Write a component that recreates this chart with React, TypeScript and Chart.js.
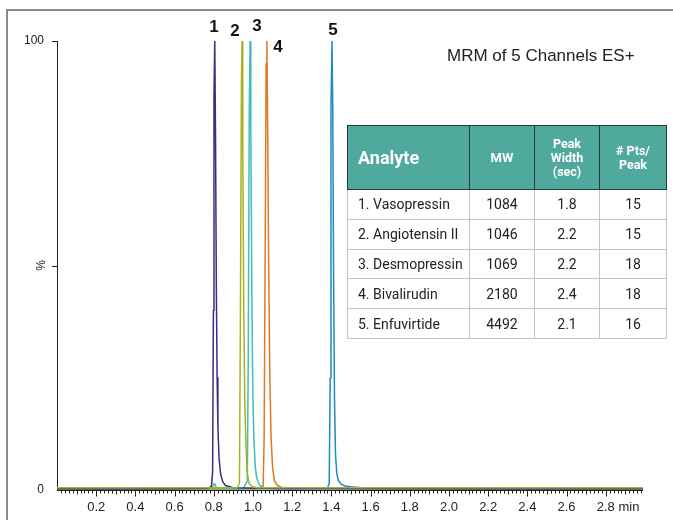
import React, { useEffect, useRef } from "react";
import { Chart, registerables } from "chart.js";

Chart.register(...registerables);

// ---- data (time in min, intensity in %) ----
const vasoT = [0, 0.3, 0.6, 0.77, 0.788, 0.794, 0.798, 0.801, 0.805, 0.809, 0.813, 0.817, 0.821, 0.827, 0.835, 0.846, 0.86, 0.9, 1.2, 1.8, 2.4, 2.99];
const vasoI = [0.3, 0.2, 0.3, 0.4, 0.8, 4, 40, 88, 100, 78, 45, 25, 14, 7, 3.5, 1.8, 1, 0.5, 0.3, 0.3, 0.2, 0.3];

const angioT = [0, 0.4, 0.8, 0.92, 0.931, 0.936, 0.941, 0.944, 0.948, 0.953, 0.958, 0.964, 0.97, 0.98, 0.995, 1.02, 1.5, 2.2, 2.99];
const angioI = [0.5, 0.5, 0.5, 0.5, 1.5, 40, 90, 100, 75, 40, 20, 10, 4, 1.5, 0.8, 0.5, 0.5, 0.5, 0.5];

const desmoT = [0, 0.5, 0.78, 0.795, 0.803, 0.81, 0.82, 0.95, 0.971, 0.976, 0.981, 0.985, 0.989, 0.994, 0.999, 1.005, 1.012, 1.02, 1.035, 1.06, 1.5, 2.99];
const desmoI = [0.3, 0.3, 0.3, 0.8, 1.5, 0.8, 0.3, 0.3, 2, 30, 85, 100, 80, 45, 22, 11, 5, 2.5, 1, 0.5, 0.3, 0.3];

const bivaT = [0, 0.5, 1.04, 1.052, 1.057, 1.063, 1.067, 1.071, 1.075, 1.08, 1.086, 1.092, 1.1, 1.11, 1.125, 1.15, 1.6, 2.99];
const bivaI = [0.3, 0.3, 0.3, 1, 12, 60, 95, 100, 80, 50, 25, 12, 5, 2, 1, 0.5, 0.3, 0.3];

const enfuT = [0, 0.6, 1.2, 1.38, 1.389, 1.394, 1.398, 1.403, 1.407, 1.411, 1.416, 1.421, 1.428, 1.437, 1.45, 1.47, 1.5, 1.55, 1.7, 2.2, 2.99];
const enfuI = [0.3, 0.3, 0.3, 0.4, 1.5, 25, 85, 100, 85, 50, 20, 8, 3.5, 2, 1.3, 0.9, 0.7, 0.5, 0.3, 0.3, 0.3];

const xTickValues = [0.2, 0.4, 0.6, 0.8, 1.0, 1.2, 1.4, 1.6, 1.8, 2.0, 2.2, 2.4, 2.6, 2.8];
const xTickLabels = ["0.2", "0.4", "0.6", "0.8", "1.0", "1.2", "1.4", "1.6", "1.8", "2.0", "2.2", "2.4", "2.6", "2.8 min"];
const yTickValues = [0, 50, 100];
const yTickLabels = ["0", "", "100"];

const peakNames = ["1", "2", "3", "4", "5"];
const peakLabelX = [0.801, 0.908, 1.02, 1.128, 1.408];
const peakLabelY = [103.1, 102.2, 103.3, 98.7, 102.4];

const tableHeader = ["Analyte", "MW", "Peak Width (sec)", "# Pts/ Peak"];
const analytes = ["1. Vasopressin", "2. Angiotensin II", "3. Desmopressin", "4. Bivalirudin", "5. Enfuvirtide"];
const mw = ["1084", "1046", "1069", "2180", "4492"];
const peakWidth = ["1.8", "2.2", "2.2", "2.4", "2.1"];
const ptsPerPeak = ["15", "15", "18", "18", "16"];

const X_MAX = 2.99;

function pts(t: number[], v: number[]) {
  return t.map((x, i) => ({ x, y: v[i] }));
}

const axesPlugin = {
  id: "customAxes",
  beforeDatasetsDraw(chart: any) {
    const { ctx } = chart;
    const x = chart.scales.x;
    const y = chart.scales.y;
    const x0 = x.getPixelForValue(0);
    const xEnd = x.getPixelForValue(X_MAX);
    const y0 = y.getPixelForValue(0);
    const y100 = y.getPixelForValue(100);
    ctx.save();
    // frame
    ctx.strokeStyle = "#8a8a8a";
    ctx.lineWidth = 2;
    ctx.beginPath();
    ctx.moveTo(7, 520);
    ctx.lineTo(7, 10);
    ctx.lineTo(673, 10);
    ctx.stroke();

    ctx.strokeStyle = "#222";
    ctx.lineWidth = 1;
    ctx.beginPath();
    ctx.moveTo(Math.round(x0) + 0.5, y100);
    ctx.lineTo(Math.round(x0) + 0.5, y0);
    ctx.moveTo(x0, Math.round(y0) + 0.5);
    ctx.lineTo(xEnd, Math.round(y0) + 0.5);
    // x minor ticks every 0.02
    for (let i = 1; i * 0.02 <= X_MAX + 1e-9; i++) {
      const px = Math.round(x.getPixelForValue(i * 0.02)) + 0.5;
      const len = i % 10 === 0 ? 6 : i % 5 === 0 ? 4 : 3;
      ctx.moveTo(px, Math.round(y0) + 0.5);
      ctx.lineTo(px, Math.round(y0) + 0.5 + len);
    }
    // y ticks
    yTickValues.forEach((v) => {
      if (v === 0) return;
      const py = Math.round(y.getPixelForValue(v)) + 0.5;
      ctx.moveTo(x0 - 5, py);
      ctx.lineTo(x0, py);
    });
    ctx.stroke();

    // x labels
    ctx.fillStyle = "#222";
    ctx.font = "13px 'Liberation Sans', Arial, sans-serif";
    ctx.textBaseline = "middle";
    xTickValues.forEach((v, i) => {
      const px = x.getPixelForValue(v);
      const lab = xTickLabels[i];
      const parts = lab.split(" ");
      ctx.textAlign = "center";
      ctx.fillText(parts[0], px, y0 + 17);
      if (parts.length > 1) {
        const w = ctx.measureText(parts[0]).width;
        ctx.textAlign = "left";
        ctx.fillText(" " + parts.slice(1).join(" "), px + w / 2, y0 + 17);
      }
    });
    // y labels
    ctx.font = "12px 'Liberation Sans', Arial, sans-serif";
    ctx.textAlign = "right";
    yTickValues.forEach((v, i) => {
      if (!yTickLabels[i]) return;
      ctx.fillText(yTickLabels[i], x0 - 13, y.getPixelForValue(v));
    });
    // % label
    ctx.save();
    ctx.translate(x0 - 15, y.getPixelForValue(50));
    ctx.rotate(-Math.PI / 2);
    ctx.textAlign = "center";
    ctx.fillText("%", 0, 0);
    ctx.restore();
    ctx.restore();
  },
  afterDraw(chart: any) {
    const { ctx } = chart;
    const x = chart.scales.x;
    const y = chart.scales.y;
    ctx.save();
    ctx.fillStyle = "#111";
    ctx.font = "bold 17px 'Liberation Sans', Arial, sans-serif";
    ctx.textAlign = "center";
    ctx.textBaseline = "middle";
    peakNames.forEach((n, i) => {
      ctx.fillText(n, x.getPixelForValue(peakLabelX[i]), y.getPixelForValue(peakLabelY[i]));
    });
    ctx.font = "17px 'Liberation Sans', Arial, sans-serif";
    ctx.fillStyle = "#222";
    ctx.textAlign = "left";
    ctx.fillText("MRM of 5 Channels ES+", 447, 56);
    ctx.restore();
  },
};

export default function App() {
  const ref = useRef<HTMLCanvasElement>(null);
  useEffect(() => {
    if (!ref.current) return;
    const mk = (label: string, t: number[], v: number[], color: string, order: number) => ({
      label,
      data: pts(t, v),
      borderColor: color,
      backgroundColor: color,
      borderWidth: 1.5,
      pointRadius: 0,
      tension: 0,
      fill: false,
      order,
    });
    const chart = new Chart(ref.current, {
      type: "line",
      data: {
        datasets: [
          mk("Angiotensin II", angioT, angioI, "#a8b21e", 0),
          mk("Vasopressin", vasoT, vasoI, "#3a2f7a", 1),
          mk("Desmopressin", desmoT, desmoI, "#45bdb6", 2),
          mk("Bivalirudin", bivaT, bivaI, "#df7a22", 3),
          mk("Enfuvirtide", enfuT, enfuI, "#1f8bbf", 4),
        ],
      },
      options: {
        responsive: false,
        animation: false,
        layout: { padding: { left: 57, right: 30, top: 41, bottom: 30 } },
        scales: {
          x: { type: "linear", min: 0, max: X_MAX, display: false },
          y: { type: "linear", min: 0, max: 100, display: false },
        },
        plugins: { legend: { display: false }, tooltip: { enabled: false }, title: { display: false } },
        elements: { line: { borderJoinStyle: "round" } },
      },
      plugins: [axesPlugin],
    } as any);
    return () => chart.destroy();
  }, []);

  const border = "1.5px solid #c4c4c4";
  const hdrBorder = "1.5px solid #2b3b38";
  const cellBase: React.CSSProperties = {
    border,
    padding: 0,
    textAlign: "center",
    fontSize: 14,
    color: "#222",
    height: 28.8,
  };
  const hdrCell: React.CSSProperties = {
    border: hdrBorder,
    background: "#50a99d",
    color: "#fff",
    fontWeight: 700,
    fontSize: 12.5,
    lineHeight: "14px",
    textAlign: "center",
    padding: 0,
    height: 63,
  };

  return (
    <div style={{ position: "fixed", left: 0, top: 0, width: 673, height: 520, background: "#fff" }}>
      <canvas ref={ref} width={673} height={520} style={{ display: "block" }} />
      <table
        style={{
          position: "absolute",
          left: 347,
          top: 125,
          width: 319,
          borderCollapse: "collapse",
          tableLayout: "fixed",
          fontFamily: "Roboto, 'Noto Sans', sans-serif",
          border: "1.5px solid #b8b8b8",
        }}
      >
        <colgroup>
          <col style={{ width: 122 }} />
          <col style={{ width: 65 }} />
          <col style={{ width: 65 }} />
          <col style={{ width: 67 }} />
        </colgroup>
        <thead>
          <tr>
            <th style={{ ...hdrCell, fontSize: 18, textAlign: "left", paddingLeft: 10 }}>{tableHeader[0]}</th>
            <th style={{ ...hdrCell, fontSize: 13 }}>{tableHeader[1]}</th>
            <th style={hdrCell}>
              Peak
              <br />
              Width
              <br />
              (sec)
            </th>
            <th style={hdrCell}>
              # Pts/
              <br />
              Peak
            </th>
          </tr>
        </thead>
        <tbody>
          {analytes.map((a, i) => (
            <tr key={a}>
              <td style={{ ...cellBase, textAlign: "left", paddingLeft: 10 }}>{a}</td>
              <td style={cellBase}>{mw[i]}</td>
              <td style={cellBase}>{peakWidth[i]}</td>
              <td style={cellBase}>{ptsPerPeak[i]}</td>
            </tr>
          ))}
        </tbody>
      </table>
    </div>
  );
}
